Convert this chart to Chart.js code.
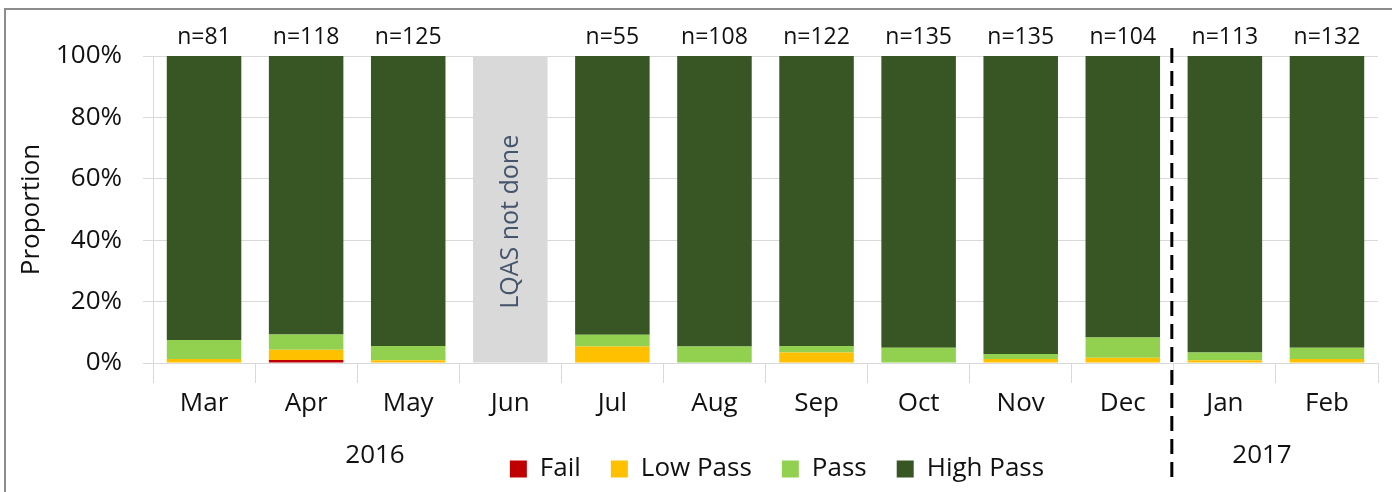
<!DOCTYPE html>
<html>
<head>
<meta charset="utf-8">
<script src="https://cdn.jsdelivr.net/npm/chart.js@4"></script>
<style>
  html, body { margin: 0; padding: 0; background: #fff; }
</style>
</head>
<body>
<canvas id="lqas" width="1392" height="492"></canvas>
<script>
// months and sample sizes
const months = ['Mar', 'Apr', 'May', 'Jun', 'Jul', 'Aug', 'Sep', 'Oct', 'Nov', 'Dec', 'Jan', 'Feb'];
const sampleN = [81, 118, 125, null, 55, 108, 122, 135, 135, 104, 113, 132];
const years = ['2016', '2017'];

// proportions in % (Jun not done)
const failPct     = [0,   1.0, 0,   null, 0,   0,   0,   0,   0,   0,   0,   0];
const lowPassPct  = [1.3, 3.3, 0.9, null, 5.4, 0,   3.4, 0,   1.3, 1.7, 0.9, 1.3];
const passPct     = [6.2, 5.0, 4.6, null, 3.8, 5.4, 2.1, 5.0, 1.6, 6.6, 2.5, 3.7];
const highPassPct = months.map((m, i) =>
  failPct[i] === null ? null : 100 - failPct[i] - lowPassPct[i] - passPct[i]);
const notDonePct  = [null, null, null, 100, null, null, null, null, null, null, null, null];

const FONT = "'Open Sans', 'Noto Sans', sans-serif";

const extras = {
  id: 'extras',
  afterLayout(chart) {
    // legend sits a bit right of centre in the original
    chart.legend.left += 86;
    chart.legend.right += 86;
  },
  afterDraw(chart) {
    const ctx = chart.ctx;
    const x = chart.scales.x, y = chart.scales.y;
    const area = chart.chartArea;
    ctx.save();

    // frame
    ctx.strokeStyle = '#8c8c8c';
    ctx.lineWidth = 2;
    ctx.strokeRect(5, 9, 1400, 500);

    // n= labels
    ctx.fillStyle = '#111';
    ctx.font = '23px ' + FONT;
    ctx.textAlign = 'center';
    ctx.textBaseline = 'middle';
    sampleN.forEach((n, i) => {
      if (n !== null) ctx.fillText('n=' + n, x.getPixelForValue(i), 37);
    });

    // not done text
    ctx.font = '25px ' + FONT;
    const jx = x.getPixelForValue(3);
    ctx.save();
    ctx.translate(jx + 1, y.getPixelForValue(46));
    ctx.rotate(-Math.PI / 2);
    ctx.fillStyle = '#44546a';
    ctx.fillText('LQAS not done', 0, 0);
    ctx.restore();

    // year labels
    ctx.font = '26px ' + FONT;
    ctx.fillStyle = '#111';
    ctx.fillText(years[0], 375, 456);
    ctx.fillText(years[1], 1262, 456);

    // year separator
    const sx = (x.getPixelForValue(9) + x.getPixelForValue(10)) / 2 - 2;
    ctx.strokeStyle = '#000';
    ctx.lineWidth = 3;
    ctx.setLineDash([15, 8]);
    ctx.beginPath();
    ctx.moveTo(sx, area.top - 8);
    ctx.lineTo(sx, 480);
    ctx.stroke();
    ctx.restore();
  }
};

new Chart(document.getElementById('lqas'), {
  type: 'bar',
  data: {
    labels: months,
    datasets: [
      { label: 'Fail', data: failPct, backgroundColor: '#c00000' },
      { label: 'Low Pass', data: lowPassPct, backgroundColor: '#ffc000' },
      { label: 'Pass', data: passPct, backgroundColor: '#92d050' },
      { label: 'High Pass', data: highPassPct, backgroundColor: '#375623' },
      { label: 'Not done', data: notDonePct, backgroundColor: '#d9d9d9' }
    ]
  },
  options: {
    responsive: false,
    animation: false,
    layout: { padding: { left: 4, right: 14, top: 56, bottom: 0 } },
    datasets: { bar: { categoryPercentage: 1, barPercentage: 0.73 } },
    plugins: {
      legend: {
        position: 'bottom',
        labels: {
          font: { family: FONT, size: 26 },
          color: '#111',
          boxWidth: 17,
          boxHeight: 17,
          padding: 30,
          filter: item => item.text !== 'Not done'
        }
      },
      tooltip: { enabled: false }
    },
    scales: {
      x: {
        stacked: true,
        grid: { drawOnChartArea: false, tickLength: 20, color: '#d9d9d9', offset: true },
        border: { color: '#d9d9d9' },
        ticks: { font: { family: FONT, size: 26 }, color: '#111', padding: 5 },
        afterFit: s => { s.height = 63; }
      },
      y: {
        stacked: true,
        min: 0,
        max: 100,
        grid: { color: '#d9d9d9', tickLength: 10 },
        border: { color: '#d9d9d9' },
        ticks: { stepSize: 20, font: { family: FONT, size: 26 }, color: '#111', padding: 21,
                 callback: v => v + '%' },
        title: { display: true, text: 'Proportion', font: { family: FONT, size: 26 }, color: '#111', padding: 12 },
        afterFit: s => { s.width = 149; }
      }
    }
  },
  plugins: [extras]
});
</script>
</body>
</html>
